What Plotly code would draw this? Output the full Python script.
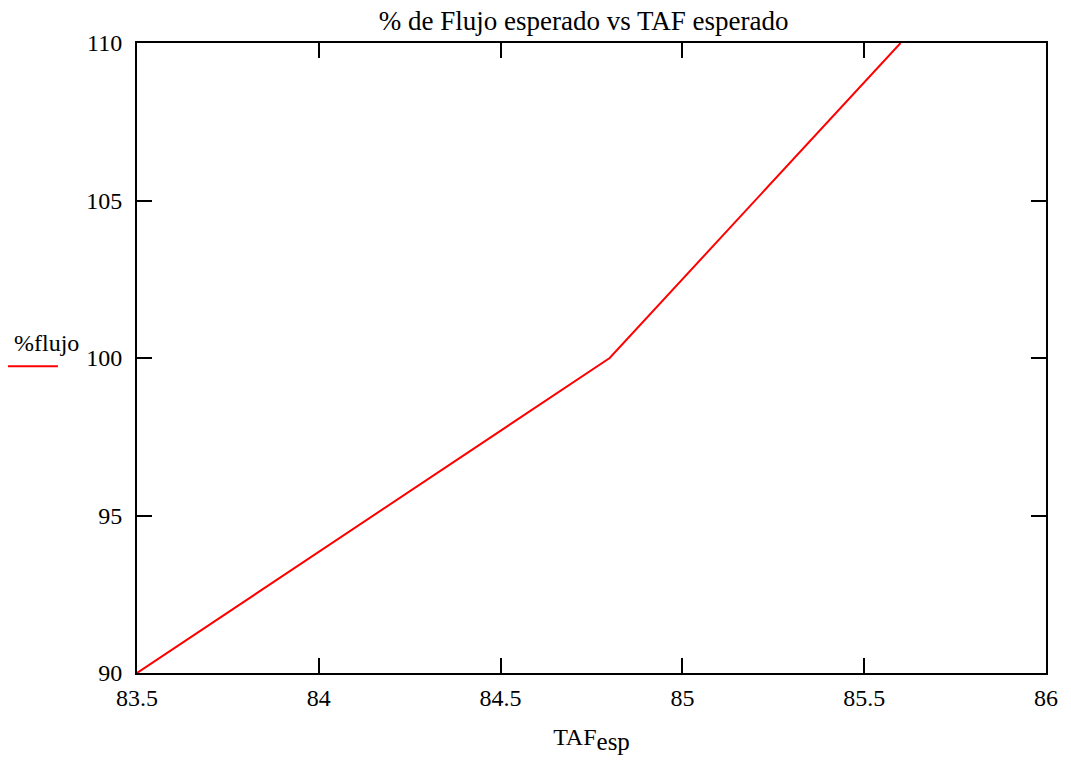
import plotly.graph_objects as go

taf_esp = [83.5, 84.8, 85.6]
flujo_pct = [90, 100, 110]
x_ticks = [83.5, 84, 84.5, 85, 85.5, 86]
x_tick_labels = ["83.5", "84", "84.5", "85", "85.5", "86"]
y_ticks = [90, 95, 100, 105, 110]
y_tick_labels = ["90", "95", "100", "105", "110"]

FONT = "Liberation Serif"

fig = go.Figure()
fig.add_trace(go.Scatter(x=taf_esp, y=flujo_pct, mode="lines",
                         line=dict(color="#ff0000", width=2), showlegend=False,
                         cliponaxis=True))

axis_common = dict(showgrid=False, zeroline=False, showline=True, linecolor="black",
                   linewidth=2, mirror="ticks", ticks="inside", ticklen=15,
                   tickwidth=1.5, tickcolor="black",
                   tickfont=dict(family=FONT, size=24, color="black"))

fig.update_xaxes(range=[83.5, 86], tickvals=x_ticks, ticktext=x_tick_labels,
                 ticklabelstandoff=2,
                 title=dict(text="TAF<sub><span style='font-size:25px'>esp</span></sub>",
                            font=dict(family=FONT, size=24, color="black"),
                            standoff=18),
                 **axis_common)
fig.update_yaxes(range=[90, 110], tickvals=y_ticks, ticktext=y_tick_labels,
                 ticklabelstandoff=8, **axis_common)

fig.add_annotation(text="%flujo", xref="paper", yref="paper", x=-0.138, y=0.5,
                   xanchor="left", yanchor="bottom", showarrow=False,
                   font=dict(family=FONT, size=24, color="black"))
fig.add_shape(type="line", xref="paper", yref="paper", x0=-0.142, x1=-0.087,
              y0=0.487, y1=0.487, line=dict(color="#ff0000", width=2))

fig.update_layout(
    width=1071, height=763,
    margin=dict(l=137, r=25, t=43, b=90),
    paper_bgcolor="white", plot_bgcolor="white",
    title=dict(text="% de Flujo esperado vs TAF esperado", x=0.545, xanchor="center",
               y=0.973, yanchor="middle",
               font=dict(family=FONT, size=27, color="black")),
)

fig.write_html("out.html")
